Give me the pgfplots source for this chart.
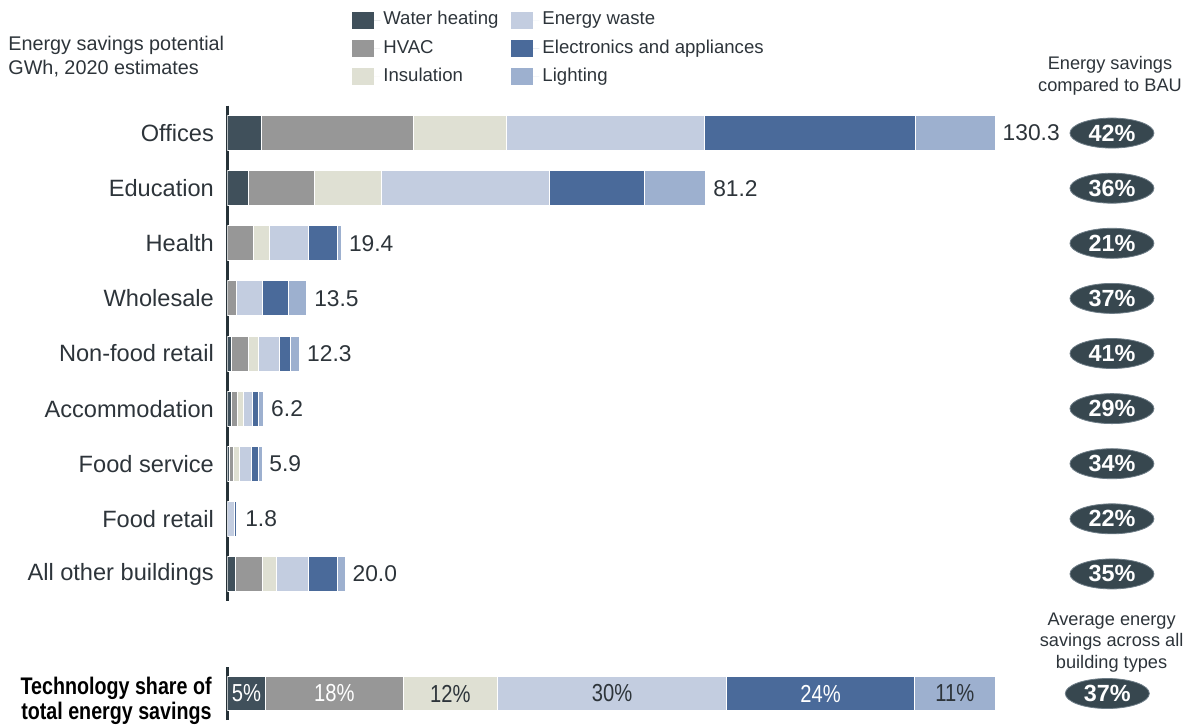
\documentclass[border=0pt]{standalone}
\usepackage{fontspec}
\setmainfont{Liberation Sans}
\newfontfamily\narrowfont{Liberation Sans}[FakeStretch=0.82]
\usepackage{pgfplots}
\pgfplotsset{compat=1.18}
\usepackage{pgfplotstable}
\usetikzlibrary{shapes.geometric}

\definecolor{cWH}{RGB}{64,80,91}
\definecolor{cHVAC}{RGB}{151,151,151}
\definecolor{cIns}{RGB}{223,224,211}
\definecolor{cEW}{RGB}{195,205,224}
\definecolor{cEA}{RGB}{74,106,154}
\definecolor{cL}{RGB}{157,176,207}
\definecolor{cEll}{RGB}{55,71,79}
\definecolor{cEllB}{RGB}{110,125,135}
\definecolor{cTxt}{RGB}{45,52,58}
\definecolor{cAx}{RGB}{38,50,56}

\pgfplotstableread{
idx WH HVAC Ins EW EA L lbl
0 5.77 25.74 15.78 33.64 35.80 13.57 130.3
1 3.56 11.32 11.32 28.55 16.12 10.33 81.2
2 0.00 4.41 2.83 6.50 4.92 0.74 19.4
3 0.00 1.48 0.00 4.46 4.48 3.08 13.5
4 0.63 2.94 1.70 3.56 1.82 1.65 12.3
5 0.75 0.95 1.02 1.59 1.02 0.87 6.2
6 0.34 0.68 0.97 2.15 1.12 0.64 5.9
7 0.00 0.00 0.00 1.15 0.40 0.25 1.8
8 1.43 4.52 2.32 5.48 4.92 1.33 20.0
}\maindata

\pgfplotstableread{
idx xp pct
0 150.1 42
1 150.1 36
2 150.1 21
3 150.1 37
4 150.1 41
5 150.1 29
6 150.1 34
7 150.1 22
8 150.1 35
}\savdata

\pgfplotstableread{
y WH HVAC Ins EW EA L
0 5.0 17.9 12.3 29.8 24.5 10.5
}\techdata

\begin{document}
\begin{tikzpicture}
\path[use as bounding box] (0,0) rectangle (592pt,-362.5pt);

% ---------- main chart ----------
\begin{axis}[
  at={(113.65pt,-52.75pt)}, anchor=north west,
  scale only axis, width=471.5pt, height=248pt,
  xbar stacked, bar width=17.5pt,
  xmin=0, xmax=160, ymin=-0.5, ymax=8.5, y dir=reverse,
  axis x line=none, axis y line=left,
  y axis line style={-, draw=cAx, line width=1.5pt},
  xtick=\empty,
  ytick={0,...,8},
  yticklabels={Offices, Education, Health, Wholesale, Non-food retail, Accommodation, Food service, Food retail, All other buildings},
  major tick length=0pt,
  yticklabel style={font=\fontsize{11.8}{13}\selectfont, text=cTxt, xshift=-3.2pt},
  every axis plot/.append style={draw=white, line width=0.5pt},
  legend columns=2,
  legend cell align=left,
  legend image code/.code={\fill[#1] (0pt,-4.25pt) rectangle (11pt,4.25pt); \path (0pt,0pt) -- (14pt,0pt);},
  legend style={at={(0.1322,1.1966)}, anchor=north west, draw=none, fill=none,
    font=\fontsize{9.3}{11}\selectfont, text=cTxt, inner sep=0pt,
    row sep=2.6pt,
    nodes={inner sep=1.5pt, text height=6.7pt, text depth=1.9pt},
    /tikz/every even column/.append style={column sep=5pt}},
]
\addlegendimage{fill=cWH, draw=none}
\addlegendentry{Water heating}
\addlegendimage{fill=cEW, draw=none}
\addlegendentry{Energy waste}
\addlegendimage{fill=cHVAC, draw=none}
\addlegendentry{HVAC}
\addlegendimage{fill=cEA, draw=none}
\addlegendentry{Electronics and appliances}
\addlegendimage{fill=cIns, draw=none}
\addlegendentry{Insulation}
\addlegendimage{fill=cL, draw=none}
\addlegendentry{Lighting}

\addplot[forget plot, fill=cWH] table[x=WH, y=idx] {\maindata};
\addplot[forget plot, fill=cHVAC] table[x=HVAC, y=idx] {\maindata};
\addplot[forget plot, fill=cIns] table[x=Ins, y=idx] {\maindata};
\addplot[forget plot, fill=cEW] table[x=EW, y=idx] {\maindata};
\addplot[forget plot, fill=cEA] table[x=EA, y=idx] {\maindata};
\addplot[forget plot, fill=cL] table[x=L, y=idx] {\maindata};
\end{axis}

% ---------- totals and savings ellipses ----------
\begin{axis}[
  at={(113.65pt,-52.75pt)}, anchor=north west,
  scale only axis, width=471.5pt, height=248pt,
  xmin=0, xmax=160, ymin=-0.5, ymax=8.5, y dir=reverse,
  hide axis, clip=false,
]
\addplot[draw=none, mark=none, point meta=explicit symbolic, nodes near coords,
  every node near coord/.append style={anchor=west, text=cTxt,
    font=\fontsize{11.4}{13}\selectfont, inner sep=3.5pt}]
  table[x=lbl, y=idx, meta=lbl] {\maindata};
\addplot[draw=none, mark=none, point meta=explicit symbolic,
  nodes near coords={\pgfplotspointmeta\%},
  every node near coord/.append style={ellipse, fill=cEll, draw=cEllB, line width=0.4pt,
    text=white, font=\bfseries\fontsize{11.7}{13}\selectfont,
    minimum width=42pt, minimum height=15pt, inner sep=0pt, anchor=center}]
  table[x=xp, y=idx, meta=pct] {\savdata};
\end{axis}

% ---------- technology share bar ----------
\begin{axis}[
  at={(113.65pt,-333.5pt)}, anchor=north west,
  scale only axis, width=471.5pt, height=26.5pt,
  xbar stacked, bar width=17pt,
  xmin=0, xmax=122.8, ymin=-0.5, ymax=0.5,
  axis x line=none, axis y line=left,
  y axis line style={-, draw=cAx, line width=1.5pt},
  xtick=\empty, ytick=\empty,
  every axis plot/.append style={draw=white, line width=0.5pt},
]
\addplot[fill=cWH] table[x=WH, y=y] {\techdata};
\addplot[fill=cHVAC] table[x=HVAC, y=y] {\techdata};
\addplot[fill=cIns] table[x=Ins, y=y] {\techdata};
\addplot[fill=cEW] table[x=EW, y=y] {\techdata};
\addplot[fill=cEA] table[x=EA, y=y] {\techdata};
\addplot[fill=cL] table[x=L, y=y] {\techdata};
\end{axis}

\begin{axis}[
  at={(113.65pt,-333.5pt)}, anchor=north west,
  scale only axis, width=471.5pt, height=26.5pt,
  xmin=0, xmax=122.8, ymin=-0.5, ymax=0.5,
  hide axis, clip=false,
]
\addplot[draw=none, mark=none, point meta=explicit symbolic, nodes near coords,
  every node near coord/.append style={anchor=center, text=white,
    font=\narrowfont\fontsize{12.3}{13}\selectfont}]
  coordinates {(2.5,0) [5\%] (13.95,0) [18\%] (77.25,0) [24\%]};
\addplot[draw=none, mark=none, point meta=explicit symbolic, nodes near coords,
  every node near coord/.append style={anchor=center, text=cTxt,
    font=\narrowfont\fontsize{12.3}{13}\selectfont}]
  coordinates {(29.05,0) [12\%] (50.1,0) [30\%] (94.75,0) [11\%]};
\addplot[draw=none, mark=none, point meta=explicit symbolic,
  nodes near coords={\pgfplotspointmeta\%},
  every node near coord/.append style={ellipse, fill=cEll, draw=cEllB, line width=0.4pt,
    text=white, font=\bfseries\fontsize{11.7}{13}\selectfont,
    minimum width=42pt, minimum height=15pt, inner sep=0pt, anchor=center}]
  coordinates {(114.6,0) [37]};
\end{axis}

% ---------- texts ----------
\begin{scope}[every node/.style={text=cTxt, inner sep=0pt}]
\node[anchor=base west, font=\fontsize{9.9}{11}\selectfont] at (4pt,-25pt) {Energy savings potential};
\node[anchor=base west, font=\fontsize{9.9}{11}\selectfont] at (4pt,-37pt) {GWh, 2020 estimates};
\node[anchor=base, font=\fontsize{9.1}{11}\selectfont] at (555pt,-34.5pt) {Energy savings};
\node[anchor=base, font=\fontsize{9.1}{11}\selectfont] at (555pt,-45.5pt) {compared to BAU};
\node[anchor=base, font=\fontsize{9.1}{11}\selectfont] at (555.8pt,-312.5pt) {Average energy};
\node[anchor=base, font=\fontsize{9.1}{11}\selectfont] at (555.8pt,-323.3pt) {savings across all};
\node[anchor=base, font=\fontsize{9.1}{11}\selectfont] at (555.8pt,-334.2pt) {building types};
\node[anchor=base east, font=\narrowfont\bfseries\fontsize{12}{13}\selectfont, text=black] at (106pt,-347pt) {Technology share of};
\node[anchor=base east, font=\narrowfont\bfseries\fontsize{12}{13}\selectfont, text=black] at (106pt,-359.5pt) {total energy savings};
\end{scope}
\end{tikzpicture}
\end{document}
